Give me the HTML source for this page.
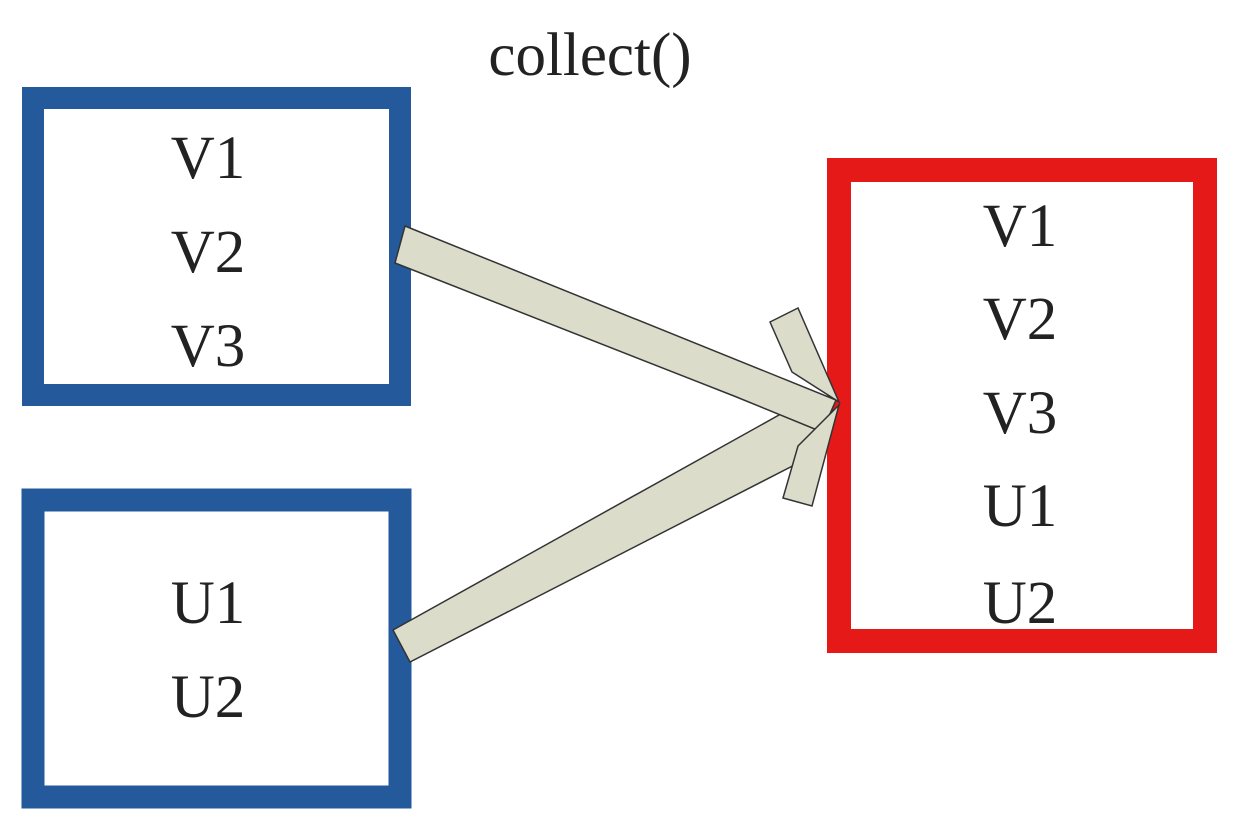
<!DOCTYPE html>
<html>
<head>
<meta charset="utf-8">
<style>
  html,body{margin:0;padding:0;background:#fff;}
  body{width:1240px;height:819px;overflow:hidden;position:relative;}
  svg text{font-family:"Liberation Serif","Times New Roman",serif;font-size:61px;fill:#222;}
</style>
</head>
<body>
<svg width="1240" height="819" viewBox="0 0 1240 819">
  <text x="590" y="75" text-anchor="middle">collect()</text>

  <g>
    <rect x="33" y="98" width="367" height="297" fill="#fff" stroke="#245a9c" stroke-width="22"/>
    <text x="208" y="178" text-anchor="middle">V1</text>
    <text x="208" y="272" text-anchor="middle">V2</text>
    <text x="208" y="366" text-anchor="middle">V3</text>
  </g>

  <g>
    <rect x="33" y="500" width="367" height="297" fill="#fff" stroke="#245a9c" stroke-width="23"/>
    <text x="208" y="623" text-anchor="middle">U1</text>
    <text x="208" y="717" text-anchor="middle">U2</text>
  </g>

  <g>
    <rect x="839" y="170" width="366" height="471" fill="#fff" stroke="#e61919" stroke-width="24"/>
    <text x="1020" y="246" text-anchor="middle">V1</text>
    <text x="1020" y="339" text-anchor="middle">V2</text>
    <text x="1020" y="433" text-anchor="middle">V3</text>
    <text x="1020" y="526" text-anchor="middle">U1</text>
    <text x="1020" y="623" text-anchor="middle">U2</text>
  </g>

  <g fill="#dcdccb" stroke="#333" stroke-width="1.5" stroke-linejoin="miter">
    <polygon points="393,630 788,410 834,410 812,456 410,662"/>
    <polygon points="405,226 836,400 822,432 734,396 395,263"/>
    <polygon points="770,322 798,308 839,402 792,372"/>
    <polygon points="783,498 812,506 839,405 798,446"/>
  </g>
</svg>
</body>
</html>
